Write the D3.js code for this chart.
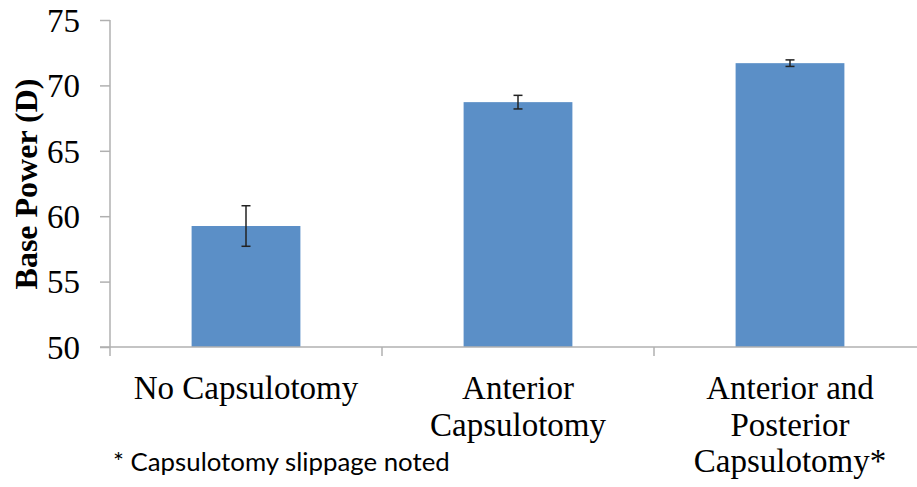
<!DOCTYPE html>
<html>
<head>
<meta charset="utf-8">
<script src="https://cdn.jsdelivr.net/npm/d3@7"></script>
<style>
  html, body { margin: 0; padding: 0; background: #fff; }
  svg { display: block; }
</style>
</head>
<body>
<svg id="chart" width="917" height="487"></svg>
<script>
// Base power by capsulotomy condition (mean ± error)
const categories = [
  ["No Capsulotomy"],
  ["Anterior", "Capsulotomy"],
  ["Anterior and", "Posterior", "Capsulotomy*"]
];
const values = [59.25, 68.72, 71.70];
const errors = [1.55, 0.52, 0.25];
const yTicks = [50, 55, 60, 65, 70, 75];
const yTitle = "Base Power (D)";
const footnote = "* Capsulotomy slippage noted";

const svg = d3.select("#chart");
const plotLeft = 110, plotRight = 926, plotTop = 20, plotBottom = 347;

const x = d3.scaleBand()
  .domain(d3.range(values.length))
  .range([plotLeft, plotRight])
  .paddingInner(0)
  .paddingOuter(0);

const y = d3.scaleLinear().domain([50, 75]).range([plotBottom, plotTop]);

const axisColor = "#b0b0b0";
const serif = "'Liberation Serif', 'Times New Roman', serif";

// Bars
const barW = x.bandwidth() * 0.4;
svg.append("g").selectAll("rect")
  .data(values)
  .join("rect")
  .attr("x", (d, i) => x(i) + (x.bandwidth() - barW) / 2)
  .attr("y", d => y(d))
  .attr("width", barW)
  .attr("height", d => y(50) - y(d))
  .attr("fill", "#5b8fc7");

// Y axis
const yAxis = svg.append("g")
  .attr("transform", `translate(${plotLeft},0)`)
  .call(d3.axisLeft(y).tickValues(yTicks).tickSize(10).tickPadding(20).tickFormat(d3.format("d")));
yAxis.select(".domain").remove();
yAxis.selectAll(".tick line").attr("stroke", axisColor).attr("stroke-width", 1.5);
yAxis.selectAll(".tick text")
  .attr("font-family", serif)
  .attr("font-size", 33)
  .attr("fill", "#000")
  .attr("dy", "0.34em");
svg.append("line")
  .attr("x1", plotLeft).attr("x2", plotLeft)
  .attr("y1", plotTop).attr("y2", plotBottom + 9)
  .attr("stroke", axisColor).attr("stroke-width", 1.5);

// X axis line and category separators
svg.append("line")
  .attr("x1", plotLeft - 10).attr("x2", 917)
  .attr("y1", plotBottom).attr("y2", plotBottom)
  .attr("stroke", axisColor).attr("stroke-width", 1.5);
svg.append("g").selectAll("line")
  .data(d3.range(1, values.length))
  .join("line")
  .attr("x1", i => x(i)).attr("x2", i => x(i))
  .attr("y1", plotBottom).attr("y2", plotBottom + 9)
  .attr("stroke", axisColor).attr("stroke-width", 1.5);

// Error bars
const eb = svg.append("g").attr("stroke", "#222").attr("stroke-width", 1.5);
values.forEach((v, i) => {
  const cx = x(i) + x.bandwidth() / 2;
  eb.append("line").attr("x1", cx).attr("x2", cx)
    .attr("y1", y(v + errors[i])).attr("y2", y(v - errors[i]));
  [v + errors[i], v - errors[i]].forEach(e => {
    eb.append("line").attr("x1", cx - 4.5).attr("x2", cx + 4.5)
      .attr("y1", y(e)).attr("y2", y(e));
  });
});

// Category labels
const labels = svg.append("g")
  .attr("font-family", serif)
  .attr("font-size", 33)
  .attr("text-anchor", "middle")
  .attr("fill", "#000");
categories.forEach((lines, i) => {
  const cx = x(i) + x.bandwidth() / 2;
  const t = labels.append("text").attr("x", cx).attr("y", 399);
  lines.forEach((ln, j) => {
    t.append("tspan").attr("x", cx).attr("y", 399 + j * 36.5).text(ln);
  });
});

// Y axis title
svg.append("text")
  .attr("transform", "translate(37,184) rotate(-90)")
  .attr("text-anchor", "middle")
  .attr("font-family", serif)
  .attr("font-weight", "bold")
  .attr("font-size", 32)
  .attr("fill", "#000")
  .text(yTitle);

// Footnote
svg.append("text")
  .attr("x", 113).attr("y", 471)
  .attr("font-family", "Lato, 'Open Sans', sans-serif")
  .attr("font-size", 25.8)
  .attr("fill", "#000")
  .text(footnote);
</script>
</body>
</html>
